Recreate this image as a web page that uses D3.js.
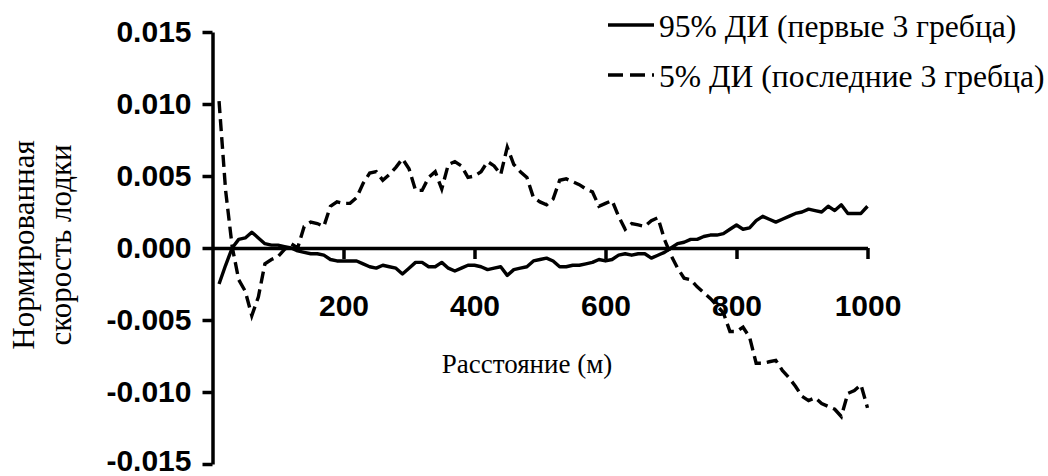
<!DOCTYPE html>
<html>
<head>
<meta charset="utf-8">
<script src="https://cdn.jsdelivr.net/npm/d3@7"></script>
<style>
  html, body { margin: 0; padding: 0; background: #fff; }
  svg { display: block; }
</style>
</head>
<body>
<svg id="chart" width="1048" height="476"></svg>
<script>
// Distance along the course (m)
const distance = d3.range(10, 1001, 10);

// Normalised boat speed, 95% CI of the first three rowers
const first3 = [
  -0.0025, -0.0012, 0.0000, 0.0006, 0.0007, 0.0011, 0.0007, 0.0003, 0.0002, 0.0002,
   0.0001,  0.0000, -0.0002, -0.0003, -0.0004, -0.0004, -0.0005, -0.0008, -0.0009, -0.0009,
  -0.0009, -0.0009, -0.0011, -0.0013, -0.0014, -0.0012, -0.0013, -0.0014, -0.0018, -0.0014,
  -0.0010, -0.0010, -0.0013, -0.0013, -0.0010, -0.0014, -0.0016, -0.0014, -0.0012, -0.0012,
  -0.0013, -0.0015, -0.0014, -0.0013, -0.0019, -0.0015, -0.0014, -0.0013, -0.0009, -0.0008,
  -0.0007, -0.0009, -0.0013, -0.0013, -0.0012, -0.0012, -0.0011, -0.0010, -0.0008, -0.0009,
  -0.0008, -0.0005, -0.0004, -0.0005, -0.0004, -0.0004, -0.0007, -0.0005, -0.0003, 0.0000,
   0.0003, 0.0004, 0.0006, 0.0006, 0.0008, 0.0009, 0.0009, 0.0010, 0.0013, 0.0016,
   0.0013, 0.0014, 0.0019, 0.0022, 0.0020, 0.0018, 0.0020, 0.0022, 0.0024, 0.0025,
   0.0027, 0.0026, 0.0025, 0.0029, 0.0026, 0.0030, 0.0024, 0.0024, 0.0024, 0.0029
];

// Normalised boat speed, 5% CI of the last three rowers
const last3 = [
   0.0102, 0.0040, 0.0001, -0.0022, -0.0030, -0.0047, -0.0034, -0.0011, -0.0008, -0.0006,
  -0.0001, 0.0003, 0.0000, 0.0015, 0.0018, 0.0017, 0.0015, 0.0029, 0.0032, 0.0031,
   0.0031, 0.0035, 0.0045, 0.0052, 0.0053, 0.0047, 0.0051, 0.0056, 0.0062, 0.0055,
   0.0040, 0.0040, 0.0049, 0.0053, 0.0041, 0.0058, 0.0060, 0.0057, 0.0049, 0.0050,
   0.0053, 0.0060, 0.0057, 0.0051, 0.0070, 0.0058, 0.0053, 0.0049, 0.0035, 0.0032,
   0.0030, 0.0034, 0.0047, 0.0048, 0.0046, 0.0044, 0.0041, 0.0039, 0.0029, 0.0031,
   0.0033, 0.0022, 0.0013, 0.0017, 0.0016, 0.0015, 0.0019, 0.0021, 0.0006, -0.0005,
  -0.0014, -0.0021, -0.0022, -0.0027, -0.0031, -0.0035, -0.0040, -0.0045, -0.0058, -0.0058,
  -0.0055, -0.0062, -0.0080, -0.0080, -0.0079, -0.0078, -0.0085, -0.0090, -0.0096, -0.0103,
  -0.0106, -0.0104, -0.0108, -0.0110, -0.0112, -0.0117, -0.0101, -0.0099, -0.0095, -0.0111
];

const xTicks = [200, 400, 600, 800, 1000];
const yTicks = [-0.015, -0.010, -0.005, 0.000, 0.005, 0.010, 0.015];
const seriesNames = ["95% ДИ (первые 3 гребца)", "5% ДИ (последние 3 гребца)"];
const xTitle = "Расстояние (м)";
const yTitle = ["Нормированная", "скорость лодки"];

const SANS = '"Liberation Sans", Arial, sans-serif';
const SERIF = '"Liberation Serif", "Times New Roman", serif';

const svg = d3.select("#chart");

const x = d3.scaleLinear().domain([0, 1000]).range([212.5, 867.5]);
const y = d3.scaleLinear().domain([-0.015, 0.015]).range([464, 32]);

const fmt = d => d3.format(".3f")(d).replace("\u2212", "-");

function styleAxis(g) {
  g.select(".domain").attr("stroke", "#000").attr("stroke-width", 3.5);
  g.selectAll(".tick line").attr("stroke", "#000").attr("stroke-width", 3.5);
  g.selectAll(".tick text")
    .style("font-family", SANS).style("font-weight", "bold")
    .style("font-size", "30px").style("fill", "#000");
}

// Y axis
const yAxis = svg.append("g")
  .attr("transform", `translate(${x(0)},0)`)
  .call(d3.axisLeft(y).tickValues(yTicks).tickFormat(fmt).tickSize(10).tickSizeOuter(0).tickPadding(11));
styleAxis(yAxis);
// keep the lowest label inside the canvas
yAxis.selectAll(".tick text").attr("dy", d => d === -0.015 ? "0.2em" : "0.33em");

// X axis drawn through zero
const xAxis = svg.append("g")
  .attr("transform", `translate(0,${y(0)})`)
  .call(d3.axisBottom(x).tickValues(xTicks).tickFormat(d3.format("d")).tickSize(11).tickSizeOuter(0));
styleAxis(xAxis);
xAxis.selectAll(".tick text").attr("y", 68).attr("dy", "0");

// Data lines
const line = d3.line().x((d, i) => x(distance[i])).y(d => y(d));
svg.append("path")
  .datum(first3)
  .attr("d", line)
  .attr("fill", "none").attr("stroke", "#000").attr("stroke-width", 3.4)
  .attr("stroke-linejoin", "round");
svg.append("path")
  .datum(last3)
  .attr("d", line)
  .attr("fill", "none").attr("stroke", "#000").attr("stroke-width", 3.4)
  .attr("stroke-dasharray", "12,6");

// Axis titles
svg.append("text")
  .attr("x", 527).attr("y", 373).attr("text-anchor", "middle")
  .style("font-family", SERIF).style("font-size", "27px").style("fill", "#000")
  .text(xTitle);

const yt = svg.append("text")
  .attr("transform", "translate(0,245) rotate(-90)")
  .attr("text-anchor", "middle")
  .style("font-family", SERIF).style("font-size", "31px").style("fill", "#000");
yt.append("tspan").attr("x", 0).attr("y", 34).text(yTitle[0]);
yt.append("tspan").attr("x", 0).attr("y", 71).text(yTitle[1]);

// Legend
const legend = svg.append("g");
const legendRows = [
  { y: 25, dash: null, name: seriesNames[0] },
  { y: 75, dash: "15,7", name: seriesNames[1] }
];
legendRows.forEach(r => {
  legend.append("line")
    .attr("x1", 608).attr("x2", 654).attr("y1", r.y).attr("y2", r.y)
    .attr("stroke", "#000").attr("stroke-width", 3.5)
    .attr("stroke-dasharray", r.dash);
  legend.append("text")
    .attr("x", 659).attr("y", r.y + 12)
    .style("font-family", SERIF).style("font-size", "31.6px").style("fill", "#000")
    .text(r.name);
});
</script>
</body>
</html>
